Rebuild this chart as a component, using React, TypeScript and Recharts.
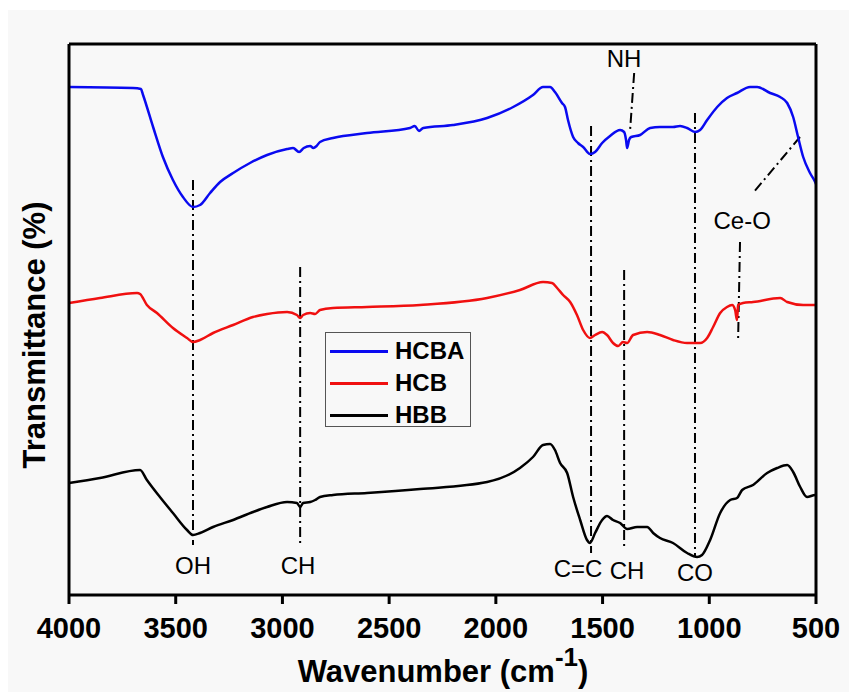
import { LineChart, Line, XAxis, YAxis, ReferenceLine, ReferenceDot, Legend } from 'recharts';

// 波數 (cm-1) 與透過率 (任意單位, 已含各曲線的垂直位移)
const hcbaWave = [4000, 3700, 3663, 3653, 3606, 3560, 3513, 3466, 3419, 3386, 3339, 3292, 3231, 3152, 3072, 2978, 2950, 2922, 2900, 2870, 2855, 2840, 2824, 2763, 2604, 2402, 2380, 2360, 2340, 2201, 2041, 1919, 1826, 1779, 1746, 1723, 1690, 1676, 1662, 1638, 1615, 1591, 1559, 1535, 1502, 1465, 1418, 1399, 1390, 1385, 1376, 1366, 1324, 1277, 1231, 1170, 1137, 1104, 1067, 1043, 1010, 963, 917, 870, 809, 776, 715, 668, 635, 607, 584, 560, 528, 504, 500];
const hcbaValues = [508, 507, 506, 500, 468, 438, 415, 398, 388, 390, 402, 413, 422, 432, 440, 446, 447, 443, 447, 449, 447, 449, 453, 457, 462, 467, 469, 464, 467, 470, 477, 488, 500, 508, 508, 503, 492, 488, 475, 458, 452, 448, 441, 443, 452, 459, 465, 463, 455, 447, 455, 458, 460, 467, 468, 468, 469, 467, 463, 465, 475, 488, 497, 502, 508, 508, 502, 498, 492, 478, 458, 438, 422, 413, 411];

const hcbWave = [4000, 3855, 3681, 3667, 3635, 3588, 3513, 3447, 3419, 3386, 3325, 3231, 3138, 3072, 2978, 2932, 2917, 2903, 2870, 2847, 2824, 2763, 2604, 2355, 2041, 1887, 1779, 1737, 1713, 1685, 1652, 1620, 1591, 1559, 1535, 1502, 1479, 1451, 1427, 1404, 1385, 1357, 1291, 1231, 1170, 1104, 1043, 1010, 982, 949, 917, 893, 879, 870, 865, 842, 795, 668, 635, 560, 504, 500];
const hcbValues = [292, 297, 302, 301, 290, 282, 267, 257, 253, 255, 262, 270, 278, 281, 283, 280, 277, 280, 282, 281, 285, 287, 288, 290, 297, 305, 313, 312, 307, 300, 293, 280, 265, 257, 260, 263, 260, 252, 249, 253, 252, 260, 263, 260, 255, 252, 252, 257, 268, 282, 288, 290, 285, 275, 290, 292, 293, 297, 293, 290, 290, 290];

const hbbWave = [4000, 3855, 3667, 3635, 3574, 3513, 3447, 3419, 3386, 3325, 3231, 3138, 3072, 2978, 2932, 2917, 2903, 2870, 2847, 2824, 2763, 2604, 2355, 2041, 1887, 1826, 1779, 1746, 1723, 1699, 1666, 1638, 1605, 1573, 1559, 1535, 1502, 1479, 1451, 1418, 1385, 1338, 1291, 1263, 1231, 1170, 1104, 1057, 1034, 996, 949, 902, 870, 846, 795, 729, 682, 635, 607, 574, 542, 504, 500];
const hbbValues = [112, 117, 125, 115, 98, 82, 65, 60, 62, 68, 75, 83, 88, 93, 92, 88, 92, 93, 95, 98, 100, 102, 106, 113, 127, 138, 150, 151, 145, 132, 122, 98, 75, 55, 52, 62, 75, 79, 75, 72, 66, 68, 68, 62, 57, 52, 42, 38, 40, 55, 82, 95, 97, 105, 110, 122, 127, 130, 123, 108, 98, 100, 100];

const xTicks = [4000, 3500, 3000, 2500, 2000, 1500, 1000, 500];

// 標註線 (波數, 起點值, 終點值)
const peakLines = [
  { w: 3419, from: 415, to: 50 },
  { w: 2917, from: 328, to: 50 },
  { w: 1554, from: 469, to: 42 },
  { w: 1399, from: 325, to: 47 },
  { w: 1067, from: 482, to: 38 },
];
const slantLines = [
  [{ x: 856, y: 353 }, { x: 865, y: 255 }],
  [{ x: 1352, y: 522 }, { x: 1371, y: 465 }],
  [{ x: 575, y: 458 }, { x: 795, y: 402 }],
];
const peakLabels = [
  { text: 'OH', w: 3419, v: 30 },
  { text: 'CH', w: 2927, v: 30 },
  { text: 'C=C', w: 1615, v: 27 },
  { text: 'CH', w: 1385, v: 25 },
  { text: 'CO', w: 1067, v: 23 },
  { text: 'NH', w: 1399, v: 537 },
  { text: 'Ce-O', w: 846, v: 375 },
];

const seriesNames = ['HCBA', 'HCB', 'HBB'];
const seriesColors = ['#0a0af0', '#f01010', '#000000'];

const toPoints = (waves: number[], vals: number[]) => waves.map((w, i) => ({ w, v: vals[i] }));
const seriesData = [toPoints(hcbaWave, hcbaValues), toPoints(hcbWave, hcbValues), toPoints(hbbWave, hbbValues)];

const FONT = 'Arial, "Liberation Sans", sans-serif';
const DASH = '10 4 2 4';

function LegendBox() {
  return (
    <div style={{ width: 146, height: 95, border: '1px solid #555', boxSizing: 'border-box', fontFamily: FONT, paddingTop: 2 }}>
      {seriesNames.map((n, i) => (
        <div key={n} style={{ display: 'flex', alignItems: 'center', height: 32 }}>
          <span style={{ display: 'inline-block', marginLeft: 4, width: 58, height: 3, background: seriesColors[i] }} />
          <span style={{ marginLeft: 7, fontSize: 24, fontWeight: 'bold', color: '#000' }}>{n}</span>
        </div>
      ))}
    </div>
  );
}

export default function App() {
  return (
    <div style={{ position: 'absolute', left: 0, top: 0, width: 849, height: 692, background: '#fff' }}>
      <div style={{ position: 'absolute', left: 8, top: 10, width: 841, height: 682, background: '#f8f8f8' }} />
      <div style={{ position: 'absolute', left: 0, top: 0 }}>
        <LineChart width={849} height={692} margin={{ top: 0, right: 0, bottom: 0, left: 0 }} style={{ fontFamily: FONT }}>
          <XAxis
            dataKey="w"
            type="number"
            domain={[500, 4000]}
            reversed
            ticks={xTicks}
            allowDuplicatedCategory={false}
            height={97}
            tickSize={9}
            tickMargin={13}
            tick={{ fontSize: 29, fontWeight: 'bold', fill: '#000' }}
            tickLine={{ stroke: '#000', strokeWidth: 3 }}
            axisLine={{ stroke: '#000', strokeWidth: 3 }}
            label={{
              content: () => (
                <text x={443} y={682} textAnchor="middle" fontSize={31} fontWeight="bold" fill="#000" fontFamily={FONT}>
                  Wavenumber (cm<tspan dy={-16} fontSize={26}>-1</tspan><tspan dy={16}>)</tspan>
                </text>
              ),
            }}
          />
          <XAxis
            xAxisId="top"
            orientation="top"
            dataKey="w"
            type="number"
            domain={[500, 4000]}
            reversed
            height={44}
            tick={false}
            tickLine={false}
            axisLine={{ stroke: '#000', strokeWidth: 3 }}
          />
          <YAxis
            type="number"
            domain={[0, 551]}
            width={69}
            tick={false}
            tickLine={false}
            axisLine={{ stroke: '#000', strokeWidth: 3 }}
            label={{
              content: () => (
                <text x={34} y={335} transform="rotate(-90 34 335)" textAnchor="middle" dominantBaseline="central" fontSize={31} fontWeight="bold" fill="#000" fontFamily={FONT}>
                  Transmittance (%)
                </text>
              ),
            }}
          />
          <YAxis
            yAxisId="right"
            orientation="right"
            type="number"
            domain={[0, 551]}
            width={33}
            tick={false}
            tickLine={false}
            axisLine={{ stroke: '#000', strokeWidth: 3 }}
          />
          <Legend
            layout="vertical"
            align="center"
            verticalAlign="middle"
            content={() => <LegendBox />}
            wrapperStyle={{ left: 325, top: 332, width: 146, height: 95 }}
          />
          {peakLines.map((p) => (
            <ReferenceLine
              key={'p' + p.w}
              segment={[{ x: p.w, y: p.from }, { x: p.w, y: p.to }]}
              stroke="#000"
              strokeWidth={2}
              strokeDasharray={DASH}
            />
          ))}
          {slantLines.map((s, i) => (
            <ReferenceLine key={'s' + i} segment={s} stroke="#000" strokeWidth={2} strokeDasharray={DASH} />
          ))}
          {seriesNames.map((n, i) => (
            <Line
              key={n}
              data={seriesData[i]}
              dataKey="v"
              name={n}
              type="monotone"
              stroke={seriesColors[i]}
              strokeWidth={2.5}
              dot={false}
              isAnimationActive={false}
            />
          ))}
          {peakLabels.map((l, i) => (
            <ReferenceDot
              key={'l' + i}
              x={l.w}
              y={l.v}
              r={0}
              fill="none"
              stroke="none"
              label={{ value: l.text, position: 'center', fontSize: 24, fill: '#000', fontFamily: FONT }}
            />
          ))}
        </LineChart>
      </div>
    </div>
  );
}
